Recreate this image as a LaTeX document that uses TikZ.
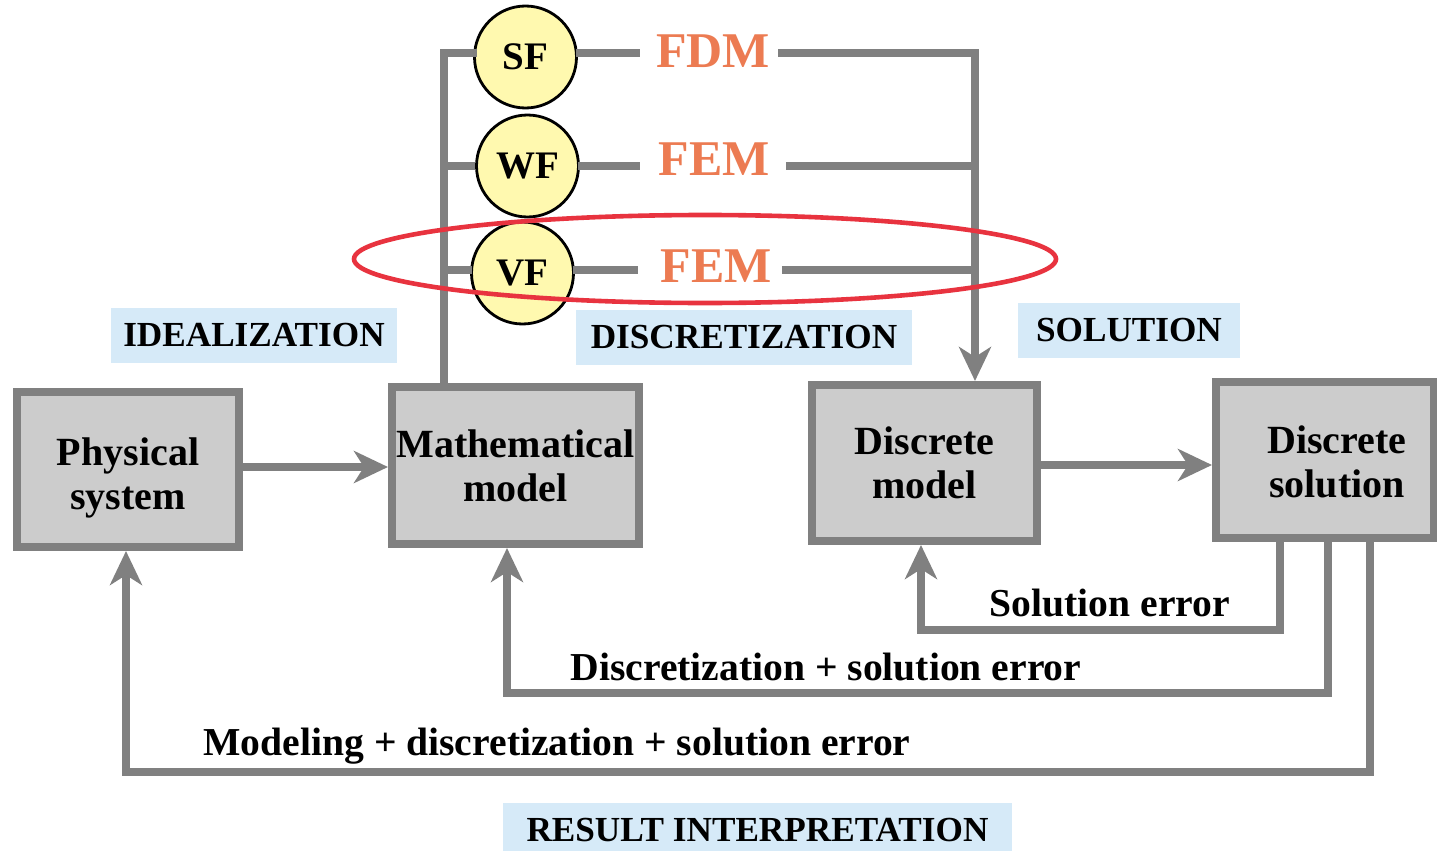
\documentclass[tikz,border=0pt]{standalone}
\usepackage{fontspec}
\setmainfont{Liberation Serif}
\usetikzlibrary{arrows.meta,calc}
\definecolor{lgray}{HTML}{808080}
\definecolor{boxfill}{HTML}{CCCCCC}
\definecolor{circfill}{HTML}{FFF9AF}
\definecolor{orangetxt}{HTML}{EC7B52}
\definecolor{redring}{HTML}{E8333F}
\definecolor{bluebg}{HTML}{D6EAF8}
\begin{document}
\begin{tikzpicture}[x=0.5pt,y=-0.5pt,
  blockbox/.style={draw=lgray, line width=4pt, fill=boxfill, inner sep=0pt, align=center,
    font=\bfseries\fontsize{20pt}{22pt}\selectfont},
  formcirc/.style={circle, draw=black, line width=1.4pt, fill=circfill, minimum size=51pt, inner sep=0pt,
    font=\bfseries\fontsize{19.5pt}{22pt}\selectfont},
  methtext/.style={text=orangetxt, inner sep=0pt, font=\bfseries\fontsize{25pt}{28pt}\selectfont},
  phaselabel/.style={fill=bluebg, inner sep=0pt, font=\bfseries\fontsize{17.6pt}{20pt}\selectfont},
  errlabel/.style={inner sep=0pt, font=\bfseries\fontsize{19.8pt}{22pt}\selectfont},
  conn/.style={draw=lgray, line width=4pt},
  arrconn/.style={draw=lgray, line width=4pt, -{Stealth[length=17pt,width=16pt,inset=5pt]}}
]
\useasboundingbox (0,0) rectangle (1437,851);
\clip (0,0) rectangle (1437,851);

% phase labels
\node[phaselabel, minimum width=143pt, minimum height=27.5pt] (ideal) at (254,335.5) {IDEALIZATION};
\node[phaselabel, minimum width=168pt, minimum height=27.5pt] (discr) at (744,337.5) {DISCRETIZATION};
\node[phaselabel, minimum width=111pt, minimum height=27.5pt] (solu) at (1129,330.5) {SOLUTION};
\node[phaselabel, minimum width=254.5pt, minimum height=27.5pt] (resint) at (757.5,830.5) {RESULT INTERPRETATION};

% blocks
\node[blockbox, minimum width=111pt, minimum height=77.5pt] (phys) at (128,469.5) {\rule{0pt}{22pt}Physical\\system};
\node[blockbox, minimum width=123.5pt, minimum height=78.5pt] (math) at (515.5,465.5) {Mathematical\\model};
\node[blockbox, minimum width=112.5pt, minimum height=78pt] (dm) at (924.5,463) {Discrete\\model};
\node[blockbox, minimum width=109pt, minimum height=78pt] (ds) at (1325,460) {};
\node[inner sep=0pt, align=center, font=\bfseries\fontsize{20pt}{22pt}\selectfont] (dstext) at (1337,462) {Discrete\\solution};

% formulation circles
\node[formcirc] (sf) at (525.5,57) {SF};
\node[formcirc] (wf) at (527.5,166) {WF};
\node[formcirc] (vf) at (522.5,273) {VF};

% method labels
\node[methtext] (fdm) at (713,51) {FDM};
\node[methtext] (fem1) at (714,159) {FEM};
\node[methtext] (fem2) at (716,266) {FEM};

\coordinate (L) at (444,0);
\coordinate (R) at (975,0);
\coordinate (rsf) at (0,53);
\coordinate (rwf) at (0,166);
\coordinate (rvf) at (0,270);

% left collector
\draw[conn] (math.north -| L) -- (L |- rsf) -- ([xshift=2pt]sf.west |- rsf);
\draw[conn] (L |- rwf) -- (wf.west |- rwf);
\draw[conn] (L |- rvf) -- ([xshift=1pt]vf.west |- rvf);
% right side
\draw[conn] ([xshift=-1pt]sf.east |- rsf) -- ([xshift=-8pt]fdm.west |- rsf);
\draw[conn] ([xshift=-1pt]wf.east |- rwf) -- ([xshift=-9pt]fem1.west |- rwf);
\draw[conn] ([xshift=-1pt]vf.east |- rvf) -- ([xshift=-11pt]fem2.west |- rvf);
\draw[arrconn] ([xshift=4pt]fdm.east |- rsf) -- (R |- rsf) -- (R |- dm.north);
\draw[conn] ([xshift=8pt]fem1.east |- rwf) -- ([xshift=2pt]R |- rwf);
\draw[conn] ([xshift=5pt]fem2.east |- rvf) -- (R |- rvf);

% forward arrows
\draw[arrconn] (phys.east |- 0,467) -- (math.west |- 0,467);
\draw[arrconn] (dm.east |- 0,465) -- (ds.west |- 0,465);

% feedback loops
\coordinate (a1) at (1280,630);
\coordinate (a2) at (921,630);
\coordinate (b1) at (1328,693);
\coordinate (b2) at (507,693);
\coordinate (c1) at (1370,772);
\coordinate (c2) at (126,772);
\draw[arrconn] (a1 |- ds.south) -- (a1) -- (a2) -- (a2 |- dm.south);
\draw[arrconn] (b1 |- ds.south) -- (b1) -- (b2) -- (b2 |- math.south);
\draw[arrconn] (c1 |- ds.south) -- (c1) -- (c2) -- (c2 |- phys.south);

\node[errlabel] (serr) at (1110,603) {Solution error};
\node[errlabel] (dserr) at (826,667) {Discretization + solution error};
\node[errlabel] (mdserr) at (557,746) {Modeling + discretization + solution error};

% highlight ellipse
\draw[draw=redring, line width=2.3pt] (705,259) ellipse [x radius=175.5pt, y radius=22pt];
\end{tikzpicture}
\end{document}
